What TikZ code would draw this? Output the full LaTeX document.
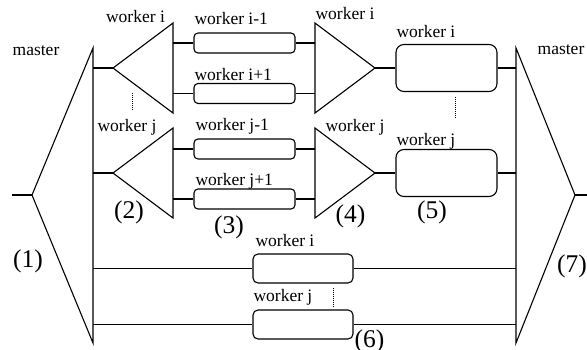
\documentclass[tikz,border=0pt]{standalone}
\usepackage{fontspec}
\setmainfont{Liberation Serif}
\usetikzlibrary{positioning, calc}
\newcommand{\labsize}{\fontsize{17.5}{18}\selectfont}
\newcommand{\numsize}{\fontsize{25.5}{26}\selectfont}
\tikzset{
  wbox/.style={draw, rounded corners=4pt, minimum width=101pt, minimum height=20pt, inner sep=0pt},
  rbox/.style={draw, rounded corners=8pt, minimum width=101pt, minimum height=47pt, inner sep=0pt},
  lbox/.style={draw, rounded corners=5pt, minimum width=100pt, minimum height=29pt, inner sep=0pt},
  lab/.style={font=\labsize, inner sep=0pt},
  num/.style={font=\numsize, inner sep=0pt},
  dots/.style={line width=0.6pt, dash pattern=on 0.8pt off 1.2pt}
}

\begin{document}
\begin{tikzpicture}[x=1pt, y=-1pt, line width=1.1pt]
  \useasboundingbox (0,0) rectangle (587,349);
  % master, left (1) and right (7)
  \coordinate (mL) at (32,195);
  \coordinate (mLt) at (93,48);
  \coordinate (mLb) at (93,343);
  \coordinate (mR) at (575,195);
  \coordinate (mRt) at (516,48);
  \coordinate (mRb) at (516,343);
  \coordinate (inL) at (12,195);
  \coordinate (outR) at (587,195);
  \draw (mLt) -- (mL) -- (mLb) -- cycle;
  \draw (mRt) -- (mR) -- (mRb) -- cycle;
  \draw (inL) -- (mL);
  \draw (mR) -- (outR);
  % split (2) and merge (4) per worker
  \foreach \n/\y in {i/68, j/173}{
    \coordinate (s\n) at (113,\y);
    \coordinate (s\n t) at (173,\y-45);
    \coordinate (s\n b) at (173,\y+45);
    \coordinate (m\n) at (375,\y);
    \coordinate (m\n t) at (315,\y-45);
    \coordinate (m\n b) at (315,\y+45);
    \draw (s\n t) -- (s\n) -- (s\n b) -- cycle;
    \draw (m\n t) -- (m\n) -- (m\n b) -- cycle;
    \draw (s\n) -- (s\n -| mLt);
  }
  % neighbour boxes (3)
  \node[wbox] (wi1) at (244.5,43) {};
  \node[wbox] (wi2) at (244.5,93.5) {};
  \node[wbox] (wj1) at (244.5,149) {};
  \node[wbox] (wj2) at (244.5,199) {};
  \foreach \b/\t in {wi1/i, wi2/i, wj1/j, wj2/j}{
    \draw (\b.west) -- (\b.west -| s\t t);
    \draw (\b.east) -- (\b.east -| m\t t);
  }
  % worker boxes (5)
  \node[rbox] (ri) at (446.5,68) {};
  \node[rbox] (rj) at (446.5,173) {};
  \draw (mi) -- (ri.west);
  \draw (mj) -- (rj.west);
  \draw (ri.east) -- (ri.east -| mRt);
  \draw (rj.east) -- (rj.east -| mRt);
  % direct boxes (6)
  \node[lbox] (di) at (303,268.5) {};
  \node[lbox] (dj) at (303,324.5) {};
  \foreach \b in {di, dj}{
    \draw (\b.west) -- (\b.west -| mLt);
    \draw (\b.east) -- (\b.east -| mRt);
  }
  % dots between i and j
  \draw[dots] (132,93) -- (132,110);
  \draw[dots] (455,97) -- (455,118);
  \draw[dots] (333,288) -- (333,307);
  % labels
  \foreach \x/\y/\t in {36/55/master, 561/54/master, 135.5/22/worker i, 127/131/worker j,
      345/19/worker i, 355/131/worker j}{
    \node[lab, anchor=base] at (\x,\y) {\t};
  }
  \foreach \x/\y/\t in {194/24.5/worker i-1, 194/80/worker i+1, 195/130.7/worker j-1,
      195/185/worker j+1, 396/37.3/worker i, 396/145.7/worker j, 255/246/worker i, 253/301.7/worker j}{
    \node[lab, anchor=base west] at (\x,\y) {\t};
  }
  \foreach \x/\y/\t in {28/267.5/(1), 129/218.5/(2), 229/233.5/(3), 350.5/222.5/(4),
      432/218.5/(5), 369.5/347.6/(6), 572/272.5/(7)}{
    \node[num, anchor=base] at (\x,\y) {\t};
  }
\end{tikzpicture}
\end{document}
